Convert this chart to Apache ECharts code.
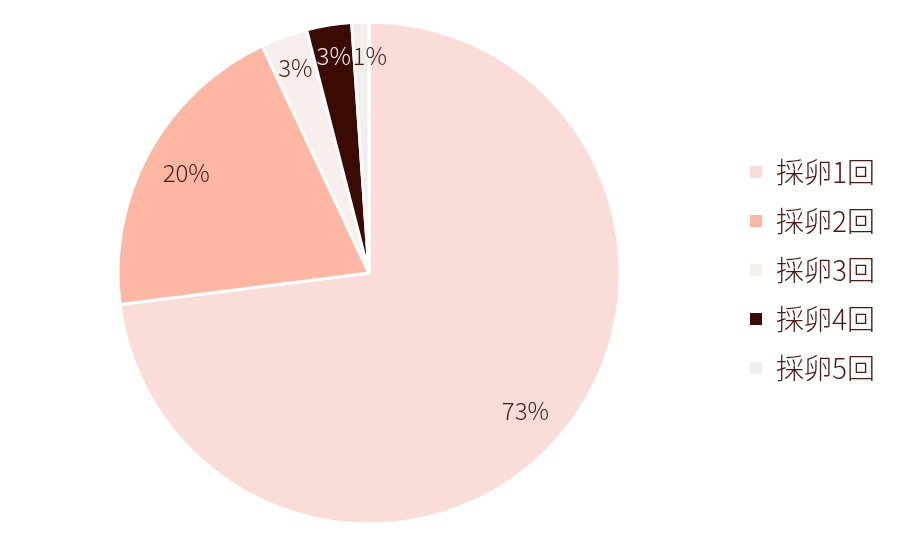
<!DOCTYPE html>
<html>
<head>
<meta charset="utf-8">
<script src="https://cdn.jsdelivr.net/npm/echarts@6/dist/echarts.min.js"></script>
<style>html,body{margin:0;padding:0;background:#fff;}#c{width:900px;height:549px;}</style>
</head>
<body>
<div id="c"></div>
<script>
const categories = ['採卵1回', '採卵2回', '採卵3回', '採卵4回', '採卵5回'];
const values = [73.0, 20.0, 3.0, 2.9, 1.1];
const labels = ['73%', '20%', '3%', '3%', '1%'];
const colors = ['#FADDD8', '#FDB7A3', '#F6EFEC', '#3B0A03', '#EFEEEC'];
const labelColors = ['#4A1A14', '#4A1A14', '#4A1A14', '#F5EEEA', '#4A1A14'];
// small nudges of the narrow-slice labels, as in the reference
const labelNudges = [[0, 0], [0, 0], [-3, -9], [-2, -11], [8, -9]];

const font = '"Noto Sans CJK JP", "Noto Sans", sans-serif';
const chart = echarts.init(document.getElementById('c'));
const pieData = categories.map((n, i) => ({ name: n, value: values[i], itemStyle: { color: colors[i] } }));
const labelData = categories.map((n, i) => ({
  name: n, value: values[i],
  label: { formatter: labels[i], color: labelColors[i], offset: labelNudges[i] }
}));
chart.setOption({
  animation: false,
  legend: {
    orient: 'vertical',
    left: 748,
    top: 157,
    padding: 0,
    icon: 'rect',
    itemWidth: 14,
    itemHeight: 14,
    itemGap: 19,
    data: categories.map((n, i) => ({ name: n, itemStyle: { color: colors[i] } })),
    textStyle: { fontFamily: font, fontSize: 28, fontWeight: 300, color: '#4A1A14', lineHeight: 30, padding: [0, 0, 0, 8] }
  },
  series: [
    {
      type: 'pie',
      center: [369, 273],
      radius: [0, 251],
      startAngle: 90,
      clockwise: true,
      label: { show: false },
      labelLine: { show: false },
      itemStyle: { borderColor: '#fff', borderWidth: 3 },
      data: pieData
    },
    {
      type: 'pie',
      center: [369, 273],
      radius: [160, 251],
      startAngle: 90,
      clockwise: true,
      silent: true,
      legendHoverLink: false,
      minShowLabelAngle: 0,
      avoidLabelOverlap: false,
      labelLayout: { hideOverlap: false },
      itemStyle: { color: 'rgba(0,0,0,0)' },
      label: { show: true, position: 'inside', fontFamily: font, fontSize: 24, fontWeight: 300 },
      labelLine: { show: false },
      data: labelData
    }
  ]
});
</script>
</body>
</html>
